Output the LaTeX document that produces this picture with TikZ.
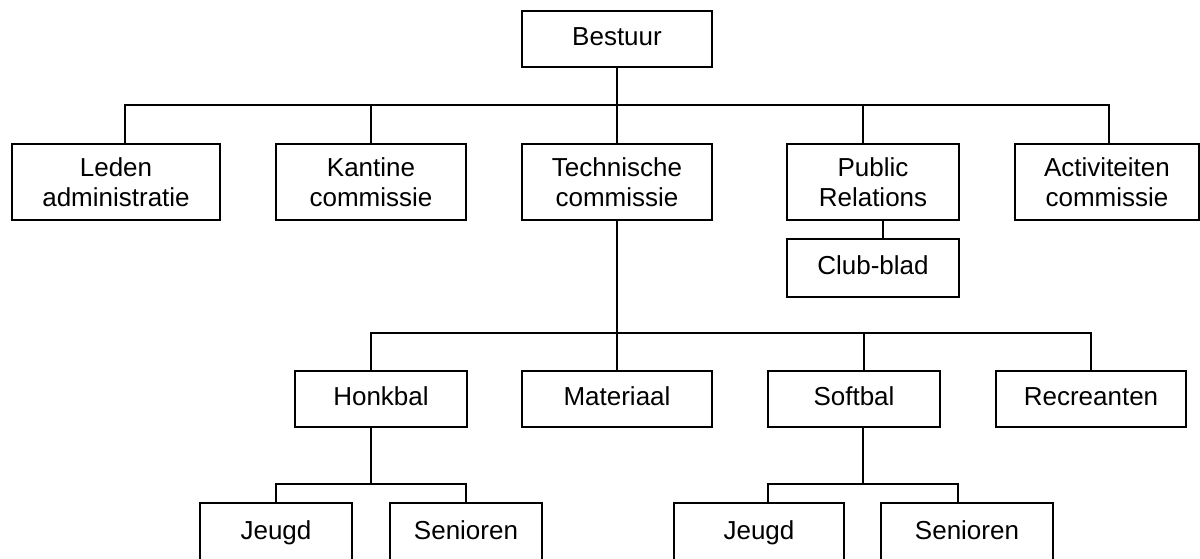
\documentclass[tikz,border=0pt]{standalone}
\usepackage{fontspec}
\setmainfont{Liberation Sans}
\begin{document}
\begin{tikzpicture}[x=1pt,y=-1pt]
\tikzset{
  box/.style={draw, line width=1.8pt, align=center, inner sep=0pt, minimum height=#1,
              font=\fontsize{26}{30}\selectfont},
  box/.default=56pt,
  one/.style={text height=19pt, text depth=6pt},
  link/.style={line width=1.8pt, line join=miter},
}
\useasboundingbox (0,0) rectangle (1200,559);
% level 0
\node[box, one, minimum width=190pt] (bestuur) at (617,39) {Bestuur};
% level 1
\node[box=76pt, minimum width=208pt] (leden) at (116,182) {Leden\\administratie};
\node[box=76pt, minimum width=190pt] (kantine) at (371,182) {Kantine\\commissie};
\node[box=76pt, minimum width=190pt] (tech) at (617,182) {Technische\\commissie};
\node[box=76pt, minimum width=172pt] (pr) at (873,182) {Public\\Relations};
\node[box=76pt, minimum width=184pt] (act) at (1107,182) {Activiteiten\\commissie};
\node[box=58pt, one, minimum width=172pt] (club) at (873,268) {Club-blad};
% level 2
\node[box, one, minimum width=172pt] (honk) at (381,399) {Honkbal};
\node[box, one, minimum width=190pt] (mat) at (617,399) {Materiaal};
\node[box, one, minimum width=172pt] (soft) at (854,399) {Softbal};
\node[box, one, minimum width=190pt] (recr) at (1091,399) {Recreanten};
% level 3
\node[box=60pt, one, minimum width=152pt] (jeugdA) at (276,533) {Jeugd};
\node[box=60pt, one, minimum width=152pt] (senA) at (466,533) {Senioren};
\node[box=60pt, one, minimum width=170pt] (jeugdB) at (759,533) {Jeugd};
\node[box=60pt, one, minimum width=172pt] (senB) at (967,533) {Senioren};
% bus coordinates
\coordinate (b1) at (125,105);
\coordinate (b2) at (1109,105);
\coordinate (p1) at (863,105);
\coordinate (c1) at (883,220);
\coordinate (m1) at (371,333);
\coordinate (m2) at (1091,333);
\coordinate (s1) at (864,333);
\coordinate (h0) at (371,427);
\coordinate (h1) at (276,484);
\coordinate (h2) at (466,484);
\coordinate (t0) at (863,427);
\coordinate (t1) at (768,484);
\coordinate (t2) at (958,484);
% connectors level 0-1
\draw[link] (bestuur.south) -- (bestuur.south |- b1);
\draw[link] (b1 |- leden.north) -- (b1) -- (b2) -- (b2 |- act.north);
\draw[link] (kantine.north) -- (kantine.north |- b1);
\draw[link] (tech.north) -- (tech.north |- b1);
\draw[link] (p1) -- (p1 |- pr.north);
\draw[link] (c1) -- (c1 |- club.north);
% connectors level 1-2
\draw[link] (tech.south) -- (tech.south |- m1);
\draw[link] (m1 |- honk.north) -- (m1) -- (m2) -- (m2 |- recr.north);
\draw[link] (mat.north) -- (mat.north |- m1);
\draw[link] (s1) -- (s1 |- soft.north);
% connectors level 2-3
\draw[link] (h0) -- (h0 |- h1);
\draw[link] (h1 |- jeugdA.north) -- (h1) -- (h2) -- (h2 |- senA.north);
\draw[link] (t0) -- (t0 |- t1);
\draw[link] (t1 |- jeugdB.north) -- (t1) -- (t2) -- (t2 |- senB.north);
\end{tikzpicture}
\end{document}
